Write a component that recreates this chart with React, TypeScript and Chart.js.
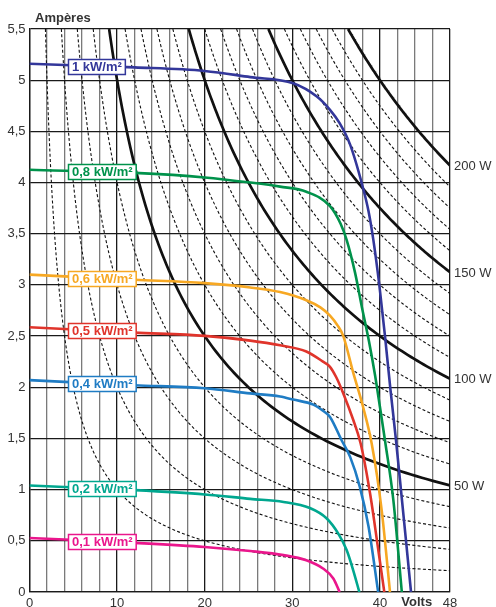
import React, { useEffect, useRef } from "react";
import { Chart, registerables } from "chart.js";

Chart.register(...registerables);

// ---- data ----
const X_MIN = 0;
const X_MAX = 48;
const Y_MIN = 0;
const Y_MAX = 5.5;
const xTickLabels = [0, 10, 20, 30, 40, 48];

const irradianceLabels = ["1 kW/m²", "0,8 kW/m²", "0,6 kW/m²", "0,5 kW/m²", "0,4 kW/m²", "0,2 kW/m²", "0,1 kW/m²"];

const curve1000: [number, number][] = [
  [0, 5.16], [12, 5.125], [20, 5.09], [25.2, 5.03], [30.1, 4.97], [32.8, 4.84], [34.3, 4.71], [35.4, 4.58],
  [36.6, 4.37], [38.0, 3.97], [38.7, 3.72], [39.25, 3.44], [39.93, 3.0], [40.58, 2.5], [41.2, 1.98], [41.84, 1.48], [43.55, 0],
];
const curve800: [number, number][] = [
  [0, 4.125], [12, 4.094], [20, 4.05], [25.2, 4.0], [28.6, 3.96], [31.6, 3.91], [34.3, 3.77], [35.5, 3.6],
  [36.2, 3.44], [37.16, 3.12], [37.95, 2.78], [38.75, 2.45], [39.44, 2.12], [40.0, 1.81], [40.58, 1.48], [41.53, 0.9], [42.5, 0],
];
const curve600: [number, number][] = [
  [0, 3.1], [12, 3.05], [20, 3.017], [25.2, 2.975], [28.6, 2.93], [31.6, 2.85], [33.2, 2.78], [34.3, 2.7],
  [35.2, 2.6], [35.82, 2.5], [36.96, 2.14], [38.1, 1.8], [39.06, 1.45], [40.2, 0.8], [41.15, 0],
];
const curve500: [number, number][] = [
  [0, 2.587], [12, 2.534], [20, 2.502], [25.2, 2.456], [28.6, 2.41], [31.6, 2.35], [33.5, 2.25], [34.3, 2.2],
  [35.0, 2.1], [35.82, 1.94], [36.96, 1.68], [37.8, 1.45], [38.9, 0.95], [39.8, 0.42], [40.5, 0],
];
const curve400: [number, number][] = [
  [0, 2.07], [12, 2.02], [20, 1.99], [25.2, 1.94], [28.6, 1.91], [30.1, 1.88], [32.4, 1.83], [33.5, 1.77],
  [34.3, 1.71], [35.64, 1.48], [36.6, 1.32], [37.7, 1.03], [38.7, 0.64], [39.8, 0],
];
const curve200: [number, number][] = [
  [0, 1.04], [12, 0.995], [20, 0.953], [25.2, 0.91], [29.0, 0.88], [32.0, 0.82], [33.9, 0.72], [35.25, 0.57],
  [36.2, 0.41], [36.96, 0.21], [37.65, 0],
];
const curve100: [number, number][] = [
  [0, 0.528], [12, 0.48], [20, 0.44], [25.2, 0.4], [29.0, 0.36], [31.6, 0.31], [33.5, 0.23], [34.7, 0.13], [35.4, 0],
];

const curves = [curve1000, curve800, curve600, curve500, curve400, curve200, curve100];

// iso-power reference lines (P = U x I)
const solidPowers = [50, 100, 150, 200];
const dashedPowers = [10, 20, 30, 40, 60, 70, 80, 90, 110, 120, 130, 140, 160, 170, 180, 190];

// ---- styles ----
const curveColors = ["#33379a", "#00924b", "#f7a823", "#e0342b", "#1f7cc4", "#00a78f", "#ea168c"];
const FONT = "'Liberation Sans', Arial, sans-serif";

function isoPowerCurve(p: number) {
  const pts: { x: number; y: number }[] = [];
  const v0 = Math.max(p / Y_MAX, 0.01);
  const n = 120;
  const r = Math.log(X_MAX / v0);
  for (let i = 0; i <= n; i++) {
    const v = v0 * Math.exp((r * i) / n);
    pts.push({ x: v, y: p / v });
  }
  return pts;
}

function interp(curve: [number, number][], v: number) {
  for (let i = 0; i < curve.length - 1; i++) {
    const [x0, y0] = curve[i];
    const [x1, y1] = curve[i + 1];
    if (v >= x0 && v <= x1) return y0 + ((y1 - y0) * (v - x0)) / (x1 - x0);
  }
  return curve[curve.length - 1][1];
}

const labelsPlugin = {
  id: "labelsPlugin",
  afterDatasetsDraw(chart: any) {
    const ctx = chart.ctx as CanvasRenderingContext2D;
    const xs = chart.scales.x;
    const ys = chart.scales.y;
    const area = chart.chartArea;
    ctx.save();
    // curve boxes
    ctx.font = `bold 13px ${FONT}`;
    ctx.textBaseline = "middle";
    ctx.textAlign = "left";
    curves.forEach((c, i) => {
      const label = irradianceLabels[i];
      const w = ctx.measureText(label).width + 7;
      const h = 15;
      const x0 = Math.round(xs.getPixelForValue(4.4)) + 0.5;
      const vc = xs.getValueForPixel(x0 + w / 2);
      const yc = ys.getPixelForValue(interp(c, vc));
      const y0 = Math.round(yc - h / 2) + 0.5;
      ctx.fillStyle = "#ffffff";
      ctx.fillRect(x0, y0, w, h);
      ctx.strokeStyle = curveColors[i];
      ctx.lineWidth = 1.5;
      ctx.strokeRect(x0, y0, w, h);
      ctx.fillStyle = curveColors[i];
      ctx.fillText(label, x0 + 3.5, y0 + h / 2 + 0.5);
    });
    // power labels
    ctx.font = `13px ${FONT}`;
    ctx.fillStyle = "#333333";
    solidPowers.forEach((p) => {
      ctx.fillText(`${p} W`, area.right + 4, ys.getPixelForValue(p / X_MAX) + 1);
    });
    // axis titles
    ctx.font = `bold 13px ${FONT}`;
    ctx.fillStyle = "#333333";
    ctx.textAlign = "left";
    ctx.fillText("Ampères", 35, 18);
    ctx.textAlign = "center";
    ctx.textBaseline = "top";
    ctx.fillText("Volts", xs.getPixelForValue(44.2), area.bottom + 4);
    ctx.restore();
  },
};

export default function App() {
  const ref = useRef<HTMLCanvasElement | null>(null);
  useEffect(() => {
    document.body.style.margin = "0";
    if (!ref.current) return;
    const ivSets = curves.map((c, i) => ({
      label: irradianceLabels[i],
      data: c.map(([x, y]) => ({ x, y })),
      borderColor: curveColors[i],
      borderWidth: 2.6,
      pointRadius: 0,
      cubicInterpolationMode: "monotone" as const,
      fill: false,
    }));
    const solidSets = solidPowers.map((p) => ({
      label: `${p} W`,
      data: isoPowerCurve(p),
      borderColor: "#111111",
      borderWidth: 2.7,
      pointRadius: 0,
      tension: 0,
      fill: false,
    }));
    const dashedSets = dashedPowers.map((p) => ({
      label: `${p} W`,
      data: isoPowerCurve(p),
      borderColor: "#111111",
      borderWidth: 1.1,
      borderDash: [3, 2.2],
      pointRadius: 0,
      tension: 0,
      fill: false,
    }));
    const chart = new Chart(ref.current, {
      type: "line",
      data: { datasets: [...ivSets, ...solidSets, ...dashedSets] as any },
      options: {
        animation: false,
        responsive: false,
        devicePixelRatio: 1,
        layout: { padding: { top: 29, right: 46, left: 0, bottom: 0 } },
        plugins: { legend: { display: false }, tooltip: { enabled: false } },
        scales: {
          x: {
            type: "linear",
            min: X_MIN,
            max: X_MAX,
            afterFit: (s: any) => {
              s.height = 15;
            },
            ticks: {
              stepSize: 2,
              autoSkip: false,
              maxRotation: 0,
              padding: 4,
              color: "#333333",
              font: { family: FONT, size: 13 },
              callback: (v: any) => (xTickLabels.includes(Number(v)) ? String(v) : ""),
            },
            grid: {
              drawTicks: false,
              lineWidth: 1.3,
              color: (c: any) => (c.tick && (c.tick.value % 10 === 0 || c.tick.value === X_MAX) ? "#1a1a1a" : "#7a7a7a"),
            },
            border: { color: "#1a1a1a", width: 1.3 },
          },
          y: {
            type: "linear",
            min: Y_MIN,
            max: Y_MAX,
            afterFit: (s: any) => {
              s.width = 29.5;
            },
            ticks: {
              stepSize: 0.5,
              autoSkip: false,
              padding: 4,
              color: "#333333",
              font: { family: FONT, size: 13 },
              callback: (v: any) => String(v).replace(".", ","),
            },
            grid: { drawTicks: false, lineWidth: 1.3, color: "#1a1a1a" },
            border: { color: "#1a1a1a", width: 1.3 },
          },
        },
      },
      plugins: [labelsPlugin],
    });
    return () => chart.destroy();
  }, []);
  return (
    <div style={{ width: 496, height: 607, position: "relative" }}>
      <canvas ref={ref} width={496} height={607} style={{ display: "block" }} />
    </div>
  );
}
